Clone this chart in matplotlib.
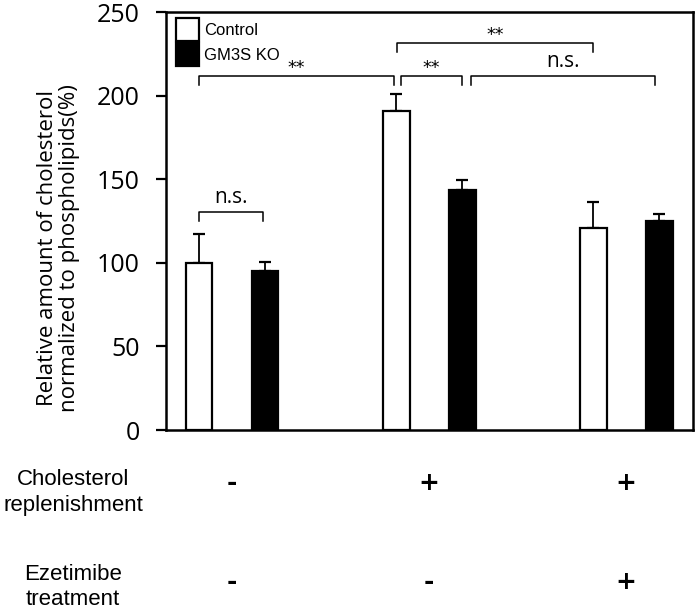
import matplotlib
matplotlib.use("Agg")
import matplotlib.pyplot as plt
import numpy as np
from matplotlib.patches import Patch

# ---- data ----
groups = [0, 1, 2]
control = [100, 190.5, 121]
control_err = [17, 10.5, 15.5]
ko = [95, 143.5, 125]
ko_err = [5.7, 6, 4]
series_labels = ["Control", "GM3S KO"]
yticks = [0, 50, 100, 150, 200, 250]
cholesterol_row = ["-", "+", "+"]
ezetimibe_row = ["-", "-", "+"]
row_labels = ["Cholesterol\nreplenishment", "Ezetimibe\ntreatment"]
ylabel = "Relative amount of cholesterol\nnormalized to phospholipids(%)"
# brackets: (bar index a, bar index b, height, label)
brackets = [(0, 1, 130.5, "n.s."),
            (0, 2, 211.7, "**"),
            (2, 4, 231.6, "**"),
            (2, 3, 211.7, "**"),
            (3, 5, 211.7, "n.s.")]

fig = plt.figure(figsize=(6.97, 6.12), dpi=100)
ax = fig.add_axes([166/697, 1-430/612, (693-166)/697, (430-12)/612])

off = 0.1675
w = 0.137
x = np.array(groups, dtype=float)
xc = x - off
xk = x + off
ax.bar(xc, control, width=w, color="white", edgecolor="black", linewidth=1.6, zorder=3, label=series_labels[0])
ax.bar(xk, ko, width=w, color="black", edgecolor="black", linewidth=1.6, zorder=3, label=series_labels[1])
zeros = [0]*3
ax.errorbar(xc, control, yerr=[zeros, control_err], fmt="none", ecolor="black", elinewidth=1.3, capsize=4.5, capthick=1.6, zorder=2)
ax.errorbar(xk, ko, yerr=[zeros, ko_err], fmt="none", ecolor="black", elinewidth=1.3, capsize=4.5, capthick=1.6, zorder=2)

ax.set_xlim(-0.335, 2.34)
ax.set_ylim(0, 250)
ax.set_yticks(yticks)
ax.set_xticks([])
for s in ax.spines.values():
    s.set_linewidth(1.8)
ax.tick_params(axis="y", length=7, width=1.6, pad=12, labelsize=18)
for lab in ax.get_yticklabels():
    lab.set_fontfamily("Open Sans")
ax.set_ylabel(ylabel, fontsize=16, family="Open Sans", linespacing=1.1, va="center")
ax.yaxis.set_label_coords((58.5-166)/527, (430-248)/418)

# brackets
bar_x = [xc[0], xk[0], xc[1], xk[1], xc[2], xk[2]]
adj = {(0, 2): (0, -0.01), (2, 4): (0.003, 0), (2, 3): (0.025, 0), (3, 5): (0.045, -0.02)}
tip = 5.5
for a, b, h, lab in brackets:
    da, db = adj.get((a, b), (0, -0.008))
    x0 = bar_x[a] + da
    x1 = bar_x[b] + db
    ax.plot([x0, x0, x1, x1], [h - tip, h, h, h - tip], color="black", lw=1.1, zorder=4)
    xm = (x0 + x1) / 2
    if lab == "**":
        ax.annotate(lab, (xm, h), xytext=(0, -1), textcoords="offset points", ha="center", va="bottom",
                    fontsize=12.5, family="DejaVu Sans")
    else:
        ax.annotate(lab, (xm, h), xytext=(0, 3), textcoords="offset points", ha="center", va="bottom",
                    fontsize=15, family="Open Sans")

leg = ax.legend(handles=[Patch(facecolor="white", edgecolor="black", linewidth=1.6),
                         Patch(facecolor="black", edgecolor="black", linewidth=1.6)],
                labels=series_labels, loc="upper left", bbox_to_anchor=(0.019, 0.986),
                frameon=False, prop={"family": "Liberation Sans", "size": 12},
                handlelength=1.35, handleheight=1.75, handletextpad=0.35, labelspacing=0.12,
                borderpad=0, borderaxespad=0)

trans = ax.get_xaxis_transform()
for gi, s in zip(groups, cholesterol_row):
    ax.text(gi, (430-483)/418, s, transform=trans, ha="center", va="center", fontsize=18,
            fontweight="bold", family="DejaVu Sans", clip_on=False)
for gi, s in zip(groups, ezetimibe_row):
    ax.text(gi, (430-582)/418, s, transform=trans, ha="center", va="center", fontsize=18,
            fontweight="bold", family="DejaVu Sans", clip_on=False)

fig.text(73/697, 1-492.5/612, row_labels[0], ha="center", va="center", fontsize=16,
         family="Liberation Sans", linespacing=1.3)
fig.text(73/697, 1-587/612, row_labels[1], ha="center", va="center", fontsize=16,
         family="Liberation Sans", linespacing=1.25)

fig.savefig("out.png", dpi=100)
